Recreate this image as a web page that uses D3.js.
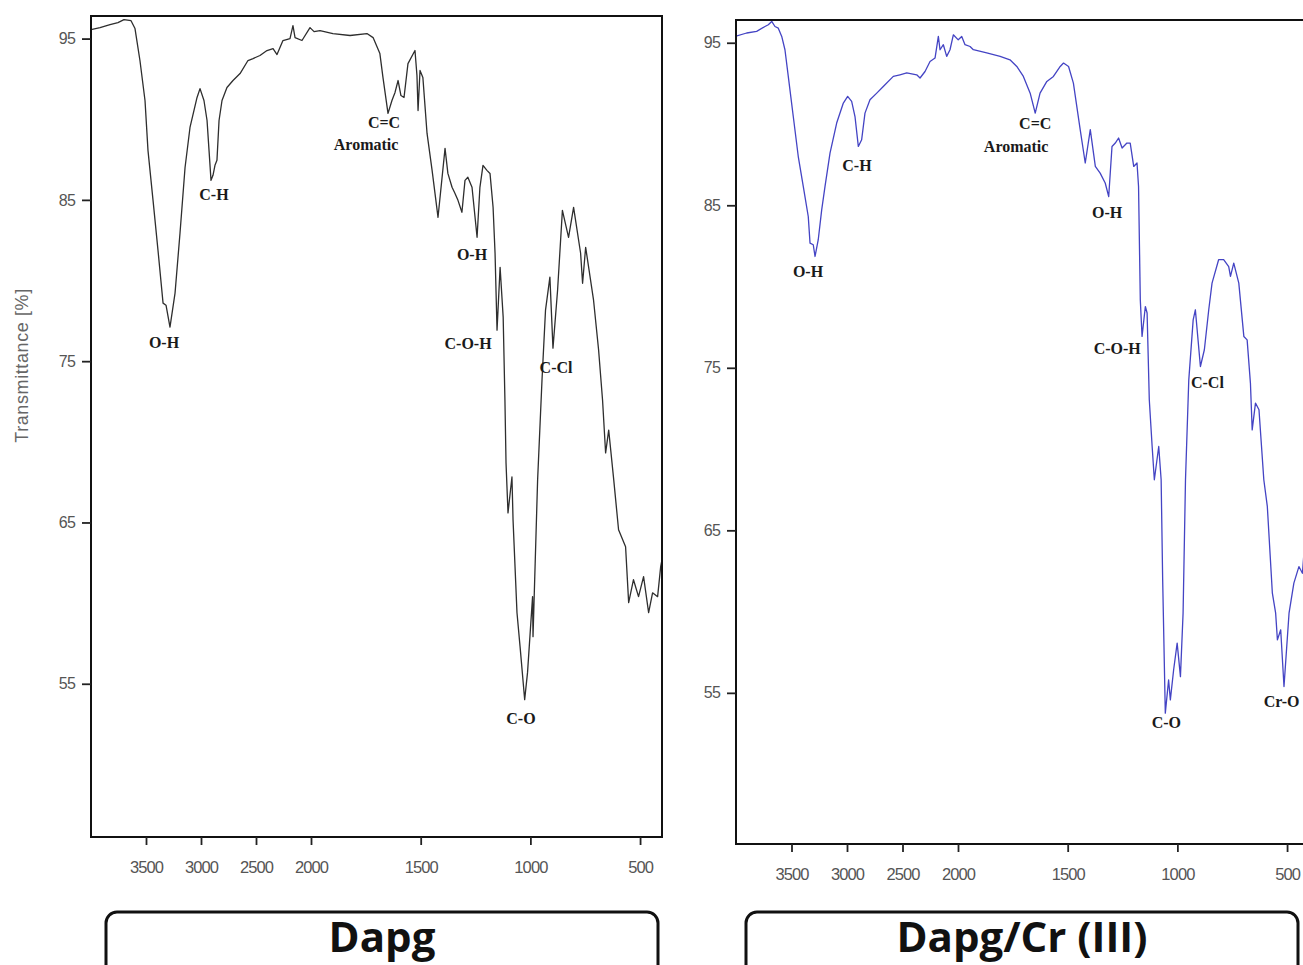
<!DOCTYPE html>
<html>
<head>
<meta charset="utf-8">
<script src="https://cdn.jsdelivr.net/npm/d3@7"></script>
<style>
  html, body { margin: 0; padding: 0; background: #fff; }
  svg { display: block; }
</style>
</head>
<body>
<svg id="chart" width="1303" height="965"></svg>
<script>
// ---------------- DATA ----------------
const xTicks = [3500, 3000, 2500, 2000, 1500, 1000, 500];
const yTicks = [95, 85, 75, 65, 55];

// Dapg (left panel): wavenumber (cm-1) and transmittance (%)
const dapgWn = [4000,3918,3827,3755,3700,3636,3600,3555,3509,3482,3436,3391,3345,3318,3282,3236,3191,3145,3100,3036,
  3009,2973,2945,2927,2909,2891,2873,2855,2836,2809,2764,2709,2645,2573,2527,2464,2400,2345,2309,2255,
  2191,2164,2145,2082,2009,1986,1959,1900,1822,1745,1717,1686,1672,1649,1631,1617,1603,1590,1576,1558,
  1526,1517,1512,1503,1490,1471,1448,1421,1389,1376,1357,1344,1330,1312,1298,1285,1266,1243,1230,1216,
  1198,1184,1170,1161,1152,1138,1124,1116,1111,1102,1084,1079,1061,1047,1026,1013,990,988,967,947,
  931,911,897,876,854,826,803,771,762,748,712,689,671,657,643,620,598,566,552,530,
  507,484,461,443,420,406,400];
const dapgT = [95.56,95.68,95.87,95.99,96.18,96.11,95.62,93.64,91.16,88.07,84.97,81.88,78.60,78.47,77.11,79.22,82.93,87.01,89.49,91.35,
  91.90,91.16,89.92,88.07,86.21,86.52,87.14,87.45,89.92,91.16,91.97,92.40,92.83,93.64,93.76,93.95,94.26,94.38,94.01,94.88,
  95.00,95.80,95.06,94.88,95.68,95.43,95.50,95.31,95.19,95.31,95.06,94.07,92.59,90.36,91.16,91.66,92.40,91.47,91.35,93.45,
  94.26,92.71,90.54,93.02,92.59,89.12,86.83,83.92,88.19,86.64,85.78,85.41,84.97,84.23,86.21,86.40,85.78,82.68,85.78,87.14,
  86.83,86.64,84.54,81.69,76.92,80.82,77.73,72.59,68.69,65.59,67.82,65.16,59.40,57.30,54.02,55.69,60.40,57.92,67.64,73.83,
  78.16,80.21,75.81,79.40,84.35,82.68,84.54,81.69,79.83,82.06,78.78,75.69,72.59,69.31,70.73,67.64,64.55,63.49,60.03,61.45,
  60.40,61.64,59.41,60.64,60.40,62.26,62.70];

// Dapg/Cr (III) (right panel)
const dapgCrWn = [4000,3904,3814,3739,3709,3678,3649,3619,3588,3559,3529,3484,3439,3394,3349,3333,3304,3288,3259,3228,
  3198,3153,3093,3033,2994,2958,2928,2898,2868,2838,2793,2732,2673,2583,2523,2462,2372,2342,2297,2252,
  2207,2177,2162,2132,2102,2072,2042,1999,1983,1968,1945,1930,1869,1808,1763,1732,1702,1671,1648,1626,
  1595,1565,1534,1519,1496,1474,1443,1420,1397,1374,1352,1329,1313,1298,1283,1268,1252,1230,1215,1199,
  1184,1177,1169,1161,1146,1138,1128,1115,1105,1085,1074,1067,1055,1040,1032,1017,1001,986,974,963,
  948,928,918,895,877,857,842,812,789,766,758,743,720,697,682,667,659,644,628,606,
  590,567,552,544,529,514,491,469,446,430,423,400];
const dapgCrT = [95.40,95.60,95.70,96.00,96.11,96.31,96.00,95.90,95.39,94.57,92.93,90.46,88.00,86.16,84.31,82.67,82.57,81.85,82.88,84.72,
  86.16,88.21,90.06,91.29,91.70,91.39,90.46,88.62,89.03,90.67,91.49,91.90,92.31,92.93,93.03,93.14,93.03,92.83,93.23,93.85,
  94.06,95.39,94.57,94.88,94.16,94.57,95.49,95.18,95.39,94.88,94.77,94.57,94.37,94.16,93.95,93.54,92.93,91.90,90.67,91.90,
  92.62,92.93,93.54,93.75,93.54,92.52,89.65,87.60,89.65,87.39,86.98,86.37,85.54,88.62,88.83,89.14,88.52,88.83,88.83,87.39,
  87.60,86.16,79.18,76.93,78.77,78.37,73.03,70.16,68.11,70.16,68.11,61.95,53.75,55.79,54.57,56.42,58.06,56.00,59.90,68.11,
  74.26,77.95,78.57,75.08,76.11,78.57,80.21,81.65,81.65,81.23,80.62,81.44,80.21,76.93,76.72,74.06,71.18,72.83,72.42,68.11,
  66.47,61.13,59.90,58.26,58.88,55.39,59.90,61.75,62.77,62.36,63.60,63.00];

// Peak annotations
const dapgLabels = ["O-H","C-H","C=C","Aromatic","O-H","C-O-H","C-Cl","C-O"];
const dapgLabelWn = [3336,2882,1667,1749,1266,1284,883,1043];
const dapgLabelT = [76.18,85.34,89.80,88.44,81.63,76.12,74.63,52.85];

const dapgCrLabels = ["O-H","C-H","C=C","Aromatic","O-H","C-O-H","C-Cl","C-O","Cr-O"];
const dapgCrLabelWn = [3351,2910,1648,1735,1320,1274,863,1050,525];
const dapgCrLabelT = [80.91,87.43,90.02,88.60,84.54,76.17,74.08,53.15,54.44];

const panelTitles = ["Dapg", "Dapg/Cr (III)"];

// ---------------- DRAW ----------------
const svg = d3.select("#chart");

const panels = [
  { wn: dapgWn, t: dapgT, labels: dapgLabels, lwn: dapgLabelWn, lt: dapgLabelT,
    xr: [91, 311, 662], yd: [45.5, 96.4], yr: [837, 16], color: "#2e2e2e",
    box: [106, 912, 552], title: panelTitles[0], yLabel: true },
  { wn: dapgCrWn, t: dapgCrT, labels: dapgCrLabels, lwn: dapgCrLabelWn, lt: dapgCrLabelT,
    xr: [736, 958, 1309], yd: [45.7, 96.4], yr: [844, 20], color: "#4444c4",
    box: [746, 912, 552], title: panelTitles[1], yLabel: false }
];

panels.forEach(p => {
  const x = d3.scaleLinear().domain([4000, 2000, 400]).range(p.xr);
  const y = d3.scaleLinear().domain(p.yd).range(p.yr);
  const g = svg.append("g");

  const x0 = p.xr[0], x1 = p.xr[2], yTop = p.yr[1], yBot = p.yr[0];

  const cid = "clip" + x0;
  svg.append("clipPath").attr("id", cid).append("rect")
    .attr("x", x0).attr("y", yTop).attr("width", x1 - x0).attr("height", yBot - yTop);

  const data = p.wn.map((w, i) => [w, p.t[i]]);
  const line = d3.line().x(d => x(d[0])).y(d => y(d[1]));
  g.append("path").datum(data)
    .attr("clip-path", `url(#${cid})`)
    .attr("d", line)
    .attr("fill", "none")
    .attr("stroke", p.color)
    .attr("stroke-width", 1.3)
    .attr("stroke-linejoin", "round");

  // frame
  g.append("rect")
    .attr("x", x0).attr("y", yTop)
    .attr("width", x1 - x0).attr("height", yBot - yTop)
    .attr("fill", "none").attr("stroke", "#111").attr("stroke-width", 2);

  // y axis
  const ya = g.append("g").attr("transform", `translate(${x0},0)`)
    .call(d3.axisLeft(y).tickValues(yTicks).tickSize(9).tickPadding(7).tickFormat(d3.format("d")));
  ya.select(".domain").remove();
  ya.selectAll(".tick line").attr("stroke", "#222").attr("stroke-width", 1.8);
  ya.selectAll(".tick text")
    .attr("font-family", "'Liberation Sans', Arial, sans-serif")
    .attr("font-size", 16).attr("letter-spacing", -0.8).attr("fill", "#555");

  // x axis
  const xa = g.append("g").attr("transform", `translate(0,${yBot})`)
    .call(d3.axisBottom(x).tickValues(xTicks).tickSize(8).tickPadding(16).tickFormat(d3.format("d")));
  xa.select(".domain").remove();
  xa.selectAll(".tick line").attr("stroke", "#222").attr("stroke-width", 1.8);
  xa.selectAll(".tick text")
    .attr("font-family", "'Liberation Sans', Arial, sans-serif")
    .attr("font-size", 16.5).attr("letter-spacing", -0.9).attr("fill", "#555");

  // annotations
  p.labels.forEach((lab, i) => {
    g.append("text")
      .attr("x", x(p.lwn[i])).attr("y", y(p.lt[i]))
      .attr("text-anchor", "middle").attr("dominant-baseline", "central")
      .attr("font-family", "'Liberation Serif', 'Times New Roman', serif")
      .attr("font-weight", "bold").attr("font-size", 16)
      .attr("fill", "#1a1a1a")
      .text(lab);
  });

  // y label
  if (p.yLabel) {
    g.append("text")
      .attr("transform", `translate(22,${(yTop + yBot) / 2 - 61}) rotate(-90)`)
      .attr("text-anchor", "middle").attr("dominant-baseline", "central")
      .attr("font-family", "'Liberation Sans', Arial, sans-serif")
      .attr("font-size", 18).attr("letter-spacing", 0.6).attr("fill", "#666")
      .text("Transmittance [%]");
  }

  // caption box
  const [bx, by, bw] = p.box;
  g.append("rect")
    .attr("x", bx).attr("y", by).attr("width", bw).attr("height", 70)
    .attr("rx", 11).attr("ry", 11)
    .attr("fill", "#fff").attr("stroke", "#111").attr("stroke-width", 3);
  g.append("text")
    .attr("x", bx + bw / 2).attr("y", 952)
    .attr("text-anchor", "middle")
    .attr("font-family", "'Open Sans', 'Noto Sans', sans-serif")
    .attr("font-weight", 700).attr("font-size", 42)
    .attr("fill", "#111")
    .text(p.title);
});
</script>
</body>
</html>
